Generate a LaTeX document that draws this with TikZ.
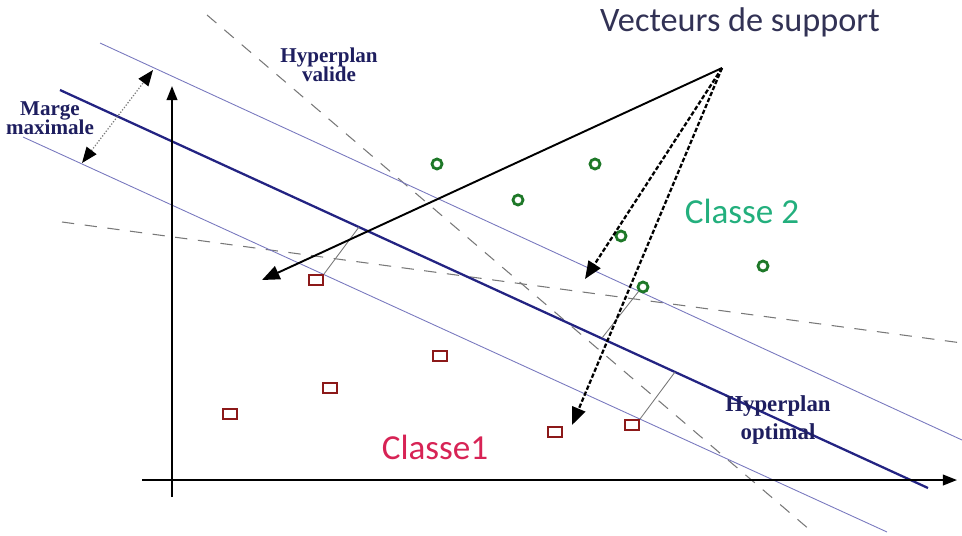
\documentclass[tikz,border=0pt]{standalone}
\usepackage{fontspec}
\setmainfont{Liberation Serif}
\newfontfamily\calib{Carlito}
\usetikzlibrary{arrows.meta}
\definecolor{hypc}{RGB}{35,35,130}
\definecolor{margc}{RGB}{120,120,190}
\definecolor{validc}{RGB}{120,120,120}
\definecolor{ringc}{RGB}{30,120,40}
\definecolor{sqc}{RGB}{140,25,25}
\definecolor{cls2c}{RGB}{35,175,125}
\definecolor{cls1c}{RGB}{215,35,85}
\definecolor{titlec}{RGB}{50,50,85}
\definecolor{labc}{RGB}{30,30,95}
\tikzset{
  axis/.style={line width=1.2pt, -{Triangle[length=8pt, width=6pt]}},
  hyp/.style={line width=1.3pt, hypc},
  marg/.style={line width=0.5pt, margc},
  valid/.style={line width=0.6pt, validc, dash pattern=on 7pt off 6pt},
  perp/.style={line width=0.5pt, validc},
  margarrow/.style={line width=0.7pt, validc, densely dotted, {Triangle[length=9pt, width=7pt, color=black]}-{Triangle[length=9pt, width=7pt, color=black]}},
  sv/.style={line width=1.1pt, -{Triangle[length=10pt, width=8pt]}},
  svd/.style={sv, line width=1.3pt, dash pattern=on 2.5pt off 1.2pt},
  sqpt/.style={draw=sqc, line width=1.4pt, rectangle, minimum width=0.27cm, minimum height=0.19cm, inner sep=0pt},
  ringpt/.style={draw=ringc, line width=1.6pt, circle, minimum size=0.2cm, inner sep=0pt},
  lab/.style={labc, font=\bfseries\fontsize{12}{11}\selectfont, align=center, inner sep=0pt},
  cls/.style={font=\calib\fontsize{20}{24}\selectfont, inner sep=0pt}
}

\begin{document}
\begin{tikzpicture}[x=0.02cm, y=-0.02cm]
  \useasboundingbox (0,0) rectangle (962,535);

  % hyperplans
  \coordinate (va1) at (207,15);  \coordinate (va2) at (810,530);
  \coordinate (vb1) at (62,222);  \coordinate (vb2) at (962,343);
  \coordinate (up1) at (100,43);  \coordinate (up2) at (962,440);
  \coordinate (lo1) at (23,137);  \coordinate (lo2) at (887,532);
  \coordinate (op1) at (60,90);   \coordinate (op2) at (928,488);
  \draw[valid] (va1) -- (va2);
  \draw[valid] (vb1) -- (vb2);
  \draw[marg] (up1) -- (up2);
  \draw[marg] (lo1) -- (lo2);
  \draw[hyp] (op1) -- (op2);

  % axes
  \coordinate (xa) at (142,480); \coordinate (xb) at (957,480);
  \coordinate (ya) at (172,497); \coordinate (yb) at (172,86);
  \draw[axis] (xa) -- (xb);
  \draw[axis] (ya) -- (yb);

  % classe 2
  \node[ringpt] (c1) at (437,164) {};
  \node[ringpt] (c2) at (595,164) {};
  \node[ringpt] (c3) at (518,200) {};
  \node[ringpt] (c4) at (621,236) {};
  \node[ringpt] (c5) at (643,287) {};
  \node[ringpt] (c6) at (763,266) {};

  % classe 1
  \node[sqpt] (s1) at (316,280) {};
  \node[sqpt] (s2) at (440,356) {};
  \node[sqpt] (s3) at (330,388) {};
  \node[sqpt] (s4) at (230,414) {};
  \node[sqpt] (s5) at (555,432) {};
  \node[sqpt] (s6) at (632,425) {};

  % distances to the optimal hyperplan
  \coordinate (f1) at (359,227);
  \coordinate (f5) at (602,338);
  \coordinate (f6) at (675,372);
  \draw[perp] (s1.north east) -- (f1);
  \draw[perp] (c5.south west) -- (f5);
  \draw[perp] (s6.north east) -- (f6);

  % marge
  \coordinate (m1) at (82,163); \coordinate (m2) at (153,70);
  \draw[margarrow] (m1) -- (m2);

  % labels
  \node[titlec, font=\calib\fontsize{19.5}{23}\selectfont, inner sep=0pt] (vs) at (740,22) {Vecteurs de support};
  \node[cls, cls2c] (cl2) at (742,211) {Classe 2};
  \node[cls, cls1c] (cl1) at (435,447) {Classe1};
  \node[lab] (hval) at (329,65) {Hyperplan\\valide};
  \node[lab] (marge) at (50,118) {Marge\\maximale};
  \node[lab, font=\bfseries\fontsize{13}{16}\selectfont] (hopt) at (778,420) {Hyperplan\\optimal};

  % vecteurs de support
  \coordinate (vsrc) at (722,68);
  \coordinate (t1) at (262,280);
  \coordinate (t2) at (585,279);
  \coordinate (t3) at (572,425);
  \draw[sv] (vsrc) -- (t1);
  \draw[svd] (vsrc) -- (t2);
  \draw[svd] (vsrc) -- (t3);
\end{tikzpicture}
\end{document}
